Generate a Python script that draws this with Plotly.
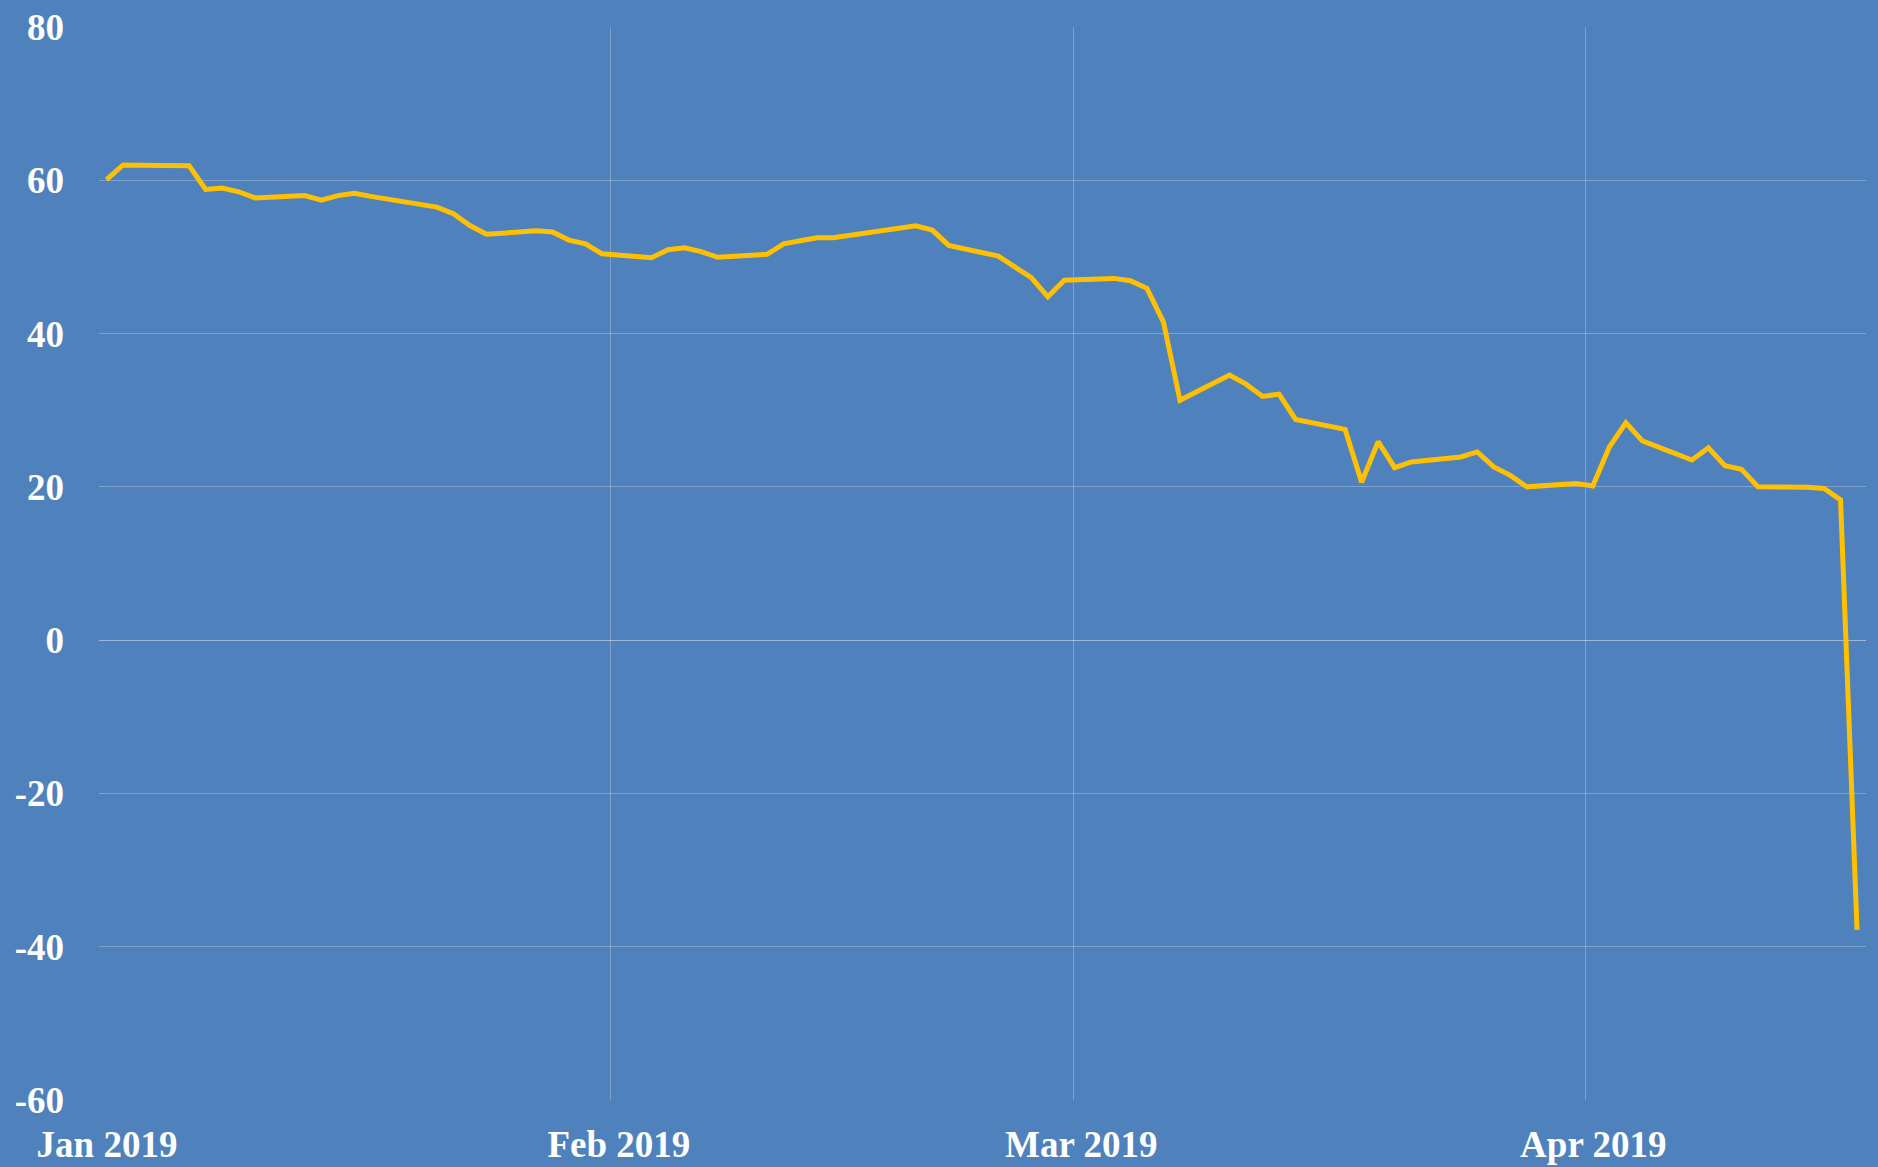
import plotly.graph_objects as go

# trading days (Sun-Thu week), stamped at the session close, and closing values
close_time = "11:00"
dates = [
    "2019-01-01", "2019-01-02", "2019-01-03", "2019-01-06", "2019-01-07", "2019-01-08",
    "2019-01-09", "2019-01-10", "2019-01-13", "2019-01-14", "2019-01-15", "2019-01-16",
    "2019-01-17", "2019-01-20", "2019-01-21", "2019-01-22", "2019-01-23", "2019-01-24",
    "2019-01-27", "2019-01-28", "2019-01-29", "2019-01-30", "2019-01-31",
    "2019-02-03", "2019-02-04", "2019-02-05", "2019-02-06", "2019-02-07",
    "2019-02-10", "2019-02-11", "2019-02-12", "2019-02-13", "2019-02-14",
    "2019-02-17", "2019-02-18", "2019-02-19", "2019-02-20", "2019-02-21",
    "2019-02-24", "2019-02-25", "2019-02-26", "2019-02-27", "2019-02-28",
    "2019-03-03", "2019-03-04", "2019-03-05", "2019-03-06", "2019-03-07",
    "2019-03-10", "2019-03-11", "2019-03-12", "2019-03-13", "2019-03-14",
    "2019-03-17", "2019-03-18", "2019-03-19", "2019-03-20", "2019-03-21",
    "2019-03-24", "2019-03-25", "2019-03-26", "2019-03-27", "2019-03-28",
    "2019-03-31", "2019-04-01", "2019-04-02", "2019-04-03", "2019-04-04",
    "2019-04-07", "2019-04-08", "2019-04-09", "2019-04-10", "2019-04-11",
    "2019-04-14", "2019-04-15", "2019-04-16", "2019-04-17",
]
values = [
    60.1, 62.0, 61.95, 61.9, 58.8, 59.0,
    58.5, 57.7, 58.0, 57.4, 58.0, 58.3,
    57.9, 56.8, 56.5, 55.65, 54.1, 52.95,
    53.4, 53.25, 52.2, 51.7, 50.4,
    49.9, 50.95, 51.2, 50.7, 49.95,
    50.35, 51.7, 52.1, 52.5, 52.5,
    53.4, 53.8, 54.05, 53.5, 51.5,
    50.1, 48.7, 47.3, 44.8, 46.95,
    47.2, 46.9, 45.9, 41.5, 31.3,
    34.6, 33.4, 31.8, 32.1, 28.8,
    27.5, 20.6, 25.9, 22.5, 23.25,
    23.9, 24.55, 22.6, 21.5, 20.0,
    20.45, 20.1, 25.2, 28.35, 26.0,
    23.5, 25.1, 22.75, 22.3, 20.0,
    19.95, 19.8, 18.3, -37.8,
]

x_range = ["2019-01-01", "2019-04-18"]
y_ticks = [-60, -40, -20, 0, 20, 40, 60, 80]
y_labels = ["-60", "-40", "-20", "0", "20", "40", "60", "80"]

bg = "#4F81BD"
grid = "rgba(205,212,228,0.38)"
font = dict(family="Liberation Serif, DejaVu Serif, serif", size=37, color="white")

timestamps = [f"{d} {close_time}" for d in dates]

fig = go.Figure(go.Scatter(x=timestamps, y=values, mode="lines",
                           line=dict(color="#FFC000", width=5)))

fig.update_layout(
    width=1878, height=1167,
    paper_bgcolor=bg, plot_bgcolor=bg,
    margin=dict(l=99, r=12, t=27, b=67),
    showlegend=False,
    font=font,
)
fig.update_xaxes(range=x_range, dtick="M1", tickformat="%b %Y",
                 showgrid=True, gridcolor=grid, gridwidth=1,
                 showline=False, zeroline=False, ticks="", automargin=False,
                 ticklabelstandoff=19, ticklabelshift=8,
                 tickfont=dict(weight="bold"))
fig.update_yaxes(range=[y_ticks[0], y_ticks[-1]], tickvals=y_ticks, ticktext=y_labels,
                 showgrid=True, gridcolor=grid, gridwidth=1,
                 zeroline=True, zerolinecolor="rgba(225,230,240,0.55)", zerolinewidth=1,
                 showline=False, ticks="", automargin=False, ticklabelstandoff=34,
                 tickfont=dict(weight="bold"))

fig.write_html("out.html", config={"displayModeBar": False},
               post_script="document.body.style.margin='0';document.body.style.overflow='hidden';")
